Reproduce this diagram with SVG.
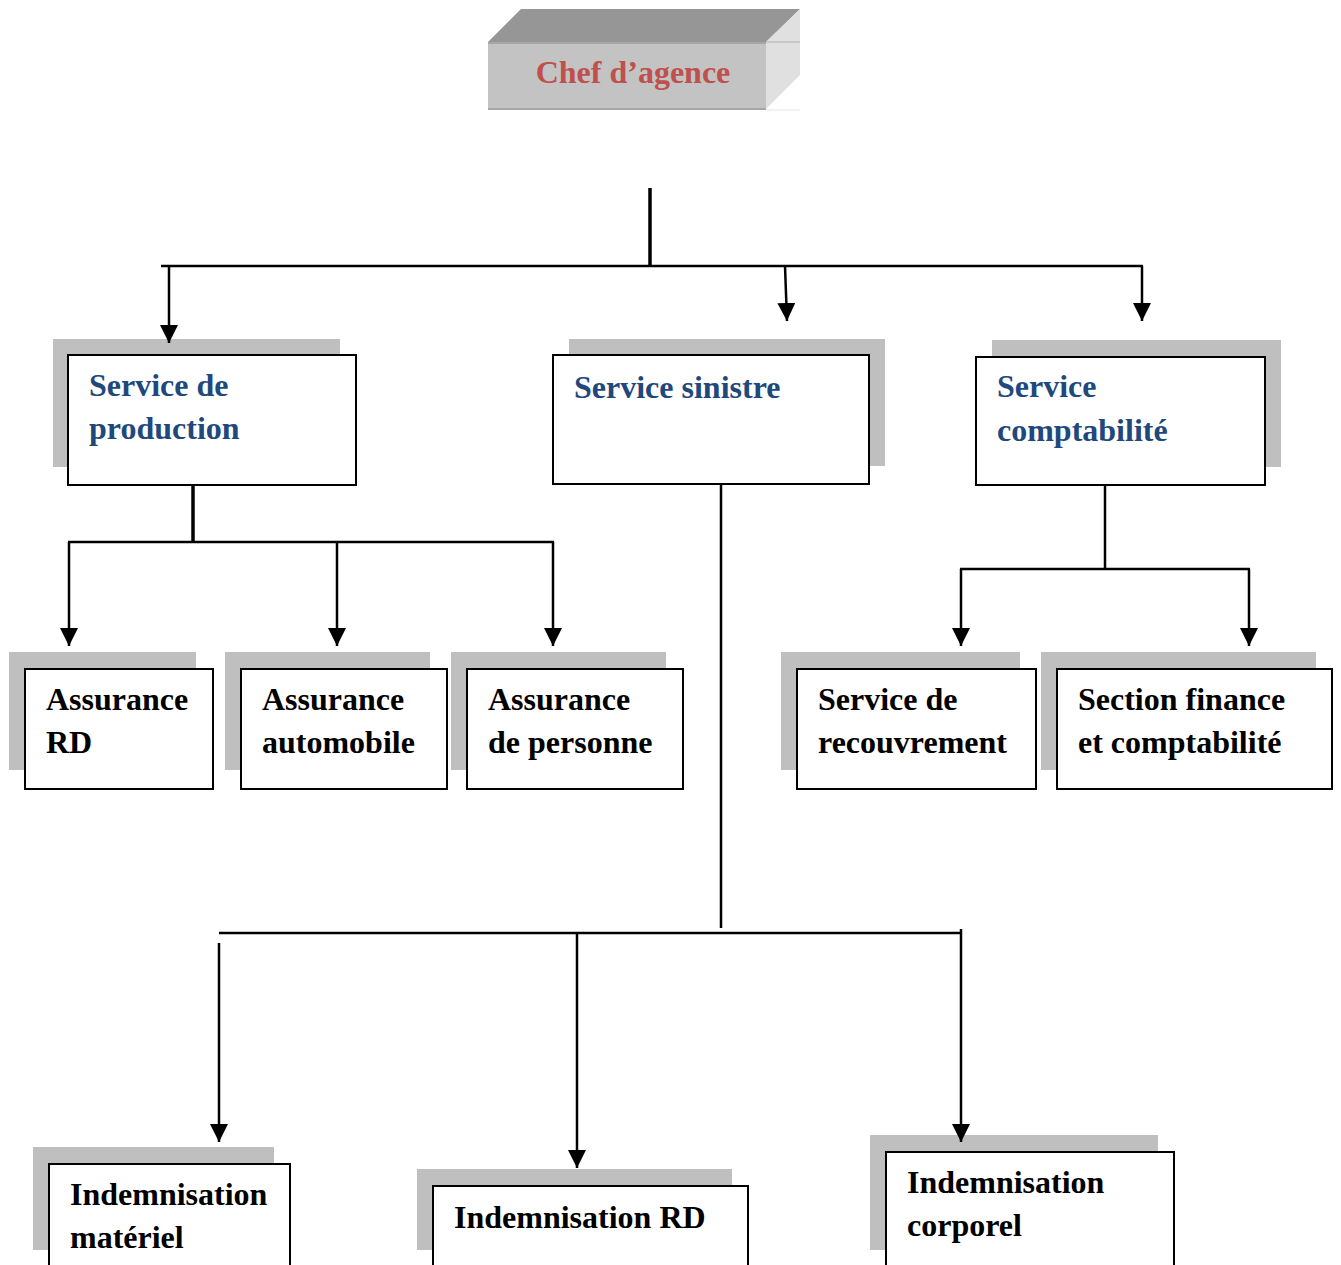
<svg xmlns="http://www.w3.org/2000/svg" width="1341" height="1265" viewBox="0 0 1341 1265">
<defs>
<style>
.sh{fill:#bfbfbf}
.bx{fill:#fff;stroke:#000;stroke-width:2}
.t{font-family:"Liberation Serif","Times New Roman",serif;font-weight:bold;font-size:32px;fill:#000}
.tb{fill:#1f497d}
.ln{fill:none;stroke:#000;stroke-width:2.5}
.thk{stroke-width:3.5}
</style>
<marker id="ah" markerUnits="userSpaceOnUse" markerWidth="18" markerHeight="18" refX="16" refY="8" orient="auto" viewBox="0 0 16 16">
<path d="M0,0 L16,8 L0,16 z" fill="#000"/>
</marker>
</defs>
<rect width="1341" height="1265" fill="#fff"/>

<g id="chef">
<polygon points="488,42 521,9 800,9 766,42" fill="#969696"/>
<polygon points="766,42 800,9 800,75 766,109" fill="#e0e0e0"/>
<rect x="488" y="42" width="278" height="68" fill="#c3c3c3"/>
<line x1="488" y1="43" x2="766" y2="43" stroke="#a6a6a6" stroke-width="2"/>
<line x1="488" y1="109" x2="766" y2="109" stroke="#a6a6a6" stroke-width="2"/>
<line x1="766" y1="42" x2="800" y2="42" stroke="#b0b0b0" stroke-width="1"/>
<line x1="766" y1="110" x2="800" y2="110" stroke="#e6e6e6" stroke-width="1"/>
<text x="633" y="83" text-anchor="middle" class="t" style="fill:#c0504d">Chef d’agence</text>
</g>

<g id="production">
<rect class="sh" x="53" y="339" width="287" height="128"/>
<rect class="bx" x="68" y="355" width="288" height="130"/>
<text class="t tb" x="89" y="396">Service de</text>
<text class="t tb" x="89" y="439">production</text>
</g>

<g id="sinistre">
<rect class="sh" x="569" y="339" width="316" height="127"/>
<rect class="bx" x="553" y="355" width="316" height="129"/>
<text class="t tb" x="574" y="398">Service sinistre</text>
</g>

<g id="comptabilite">
<rect class="sh" x="992" y="340" width="289" height="127"/>
<rect class="bx" x="976" y="357" width="289" height="128"/>
<text class="t tb" x="997" y="397">Service</text>
<text class="t tb" x="997" y="441">comptabilité</text>
</g>

<g id="assurance-rd">
<rect class="sh" x="9" y="652" width="187" height="118"/>
<rect class="bx" x="25" y="669" width="188" height="120"/>
<text class="t" x="46" y="710">Assurance</text>
<text class="t" x="46" y="753">RD</text>
</g>

<g id="assurance-auto">
<rect class="sh" x="225" y="652" width="205" height="118"/>
<rect class="bx" x="241" y="669" width="206" height="120"/>
<text class="t" x="262" y="710">Assurance</text>
<text class="t" x="262" y="753">automobile</text>
</g>

<g id="assurance-personne">
<rect class="sh" x="451" y="652" width="215" height="118"/>
<rect class="bx" x="467" y="669" width="216" height="120"/>
<text class="t" x="488" y="710">Assurance</text>
<text class="t" x="488" y="753">de personne</text>
</g>

<g id="recouvrement">
<rect class="sh" x="781" y="652" width="239" height="118"/>
<rect class="bx" x="797" y="669" width="239" height="120"/>
<text class="t" x="818" y="710">Service de</text>
<text class="t" x="818" y="753">recouvrement</text>
</g>

<g id="section-finance">
<rect class="sh" x="1041" y="652" width="275" height="118"/>
<rect class="bx" x="1057" y="669" width="275" height="120"/>
<text class="t" x="1078" y="710">Section finance</text>
<text class="t" x="1078" y="753">et comptabilité</text>
</g>

<g id="indem-materiel">
<rect class="sh" x="33" y="1147" width="241" height="103"/>
<rect class="bx" x="49" y="1164" width="241" height="120"/>
<text class="t" x="70" y="1205">Indemnisation</text>
<text class="t" x="70" y="1248">matériel</text>
</g>

<g id="indem-rd">
<rect class="sh" x="417" y="1169" width="315" height="81"/>
<rect class="bx" x="433" y="1186" width="315" height="100"/>
<text class="t" x="454" y="1228">Indemnisation RD</text>
</g>

<g id="indem-corporel">
<rect class="sh" x="870" y="1135" width="288" height="115"/>
<rect class="bx" x="886" y="1152" width="288" height="130"/>
<text class="t" x="907" y="1193">Indemnisation</text>
<text class="t" x="907" y="1236">corporel</text>
</g>

<g id="connectors">
<line class="ln thk" x1="650" y1="188" x2="650" y2="267"/>
<line class="ln" x1="161" y1="266" x2="1143" y2="266"/>
<line class="ln" x1="169" y1="266" x2="169" y2="343" marker-end="url(#ah)"/>
<line class="ln" x1="785" y1="266" x2="787" y2="321" marker-end="url(#ah)"/>
<line class="ln" x1="1142" y1="266" x2="1142" y2="321" marker-end="url(#ah)"/>

<line class="ln thk" x1="193" y1="486" x2="193" y2="543"/>
<line class="ln" x1="68" y1="542" x2="554" y2="542"/>
<line class="ln" x1="69" y1="542" x2="69" y2="646" marker-end="url(#ah)"/>
<line class="ln" x1="337" y1="542" x2="337" y2="646" marker-end="url(#ah)"/>
<line class="ln" x1="553" y1="542" x2="553" y2="646" marker-end="url(#ah)"/>

<line class="ln" x1="1105" y1="486" x2="1105" y2="569"/>
<line class="ln" x1="960" y1="569" x2="1250" y2="569"/>
<line class="ln" x1="961" y1="569" x2="961" y2="646" marker-end="url(#ah)"/>
<line class="ln" x1="1249" y1="569" x2="1249" y2="646" marker-end="url(#ah)"/>

<line class="ln" x1="721" y1="485" x2="721" y2="928"/>
<line class="ln" x1="219" y1="933" x2="962" y2="933"/>
<line class="ln" x1="219" y1="943" x2="219" y2="1142" marker-end="url(#ah)"/>
<line class="ln" x1="577" y1="934" x2="577" y2="1168" marker-end="url(#ah)"/>
<line class="ln" x1="961" y1="929" x2="961" y2="1142" marker-end="url(#ah)"/>
</g>
</svg>
